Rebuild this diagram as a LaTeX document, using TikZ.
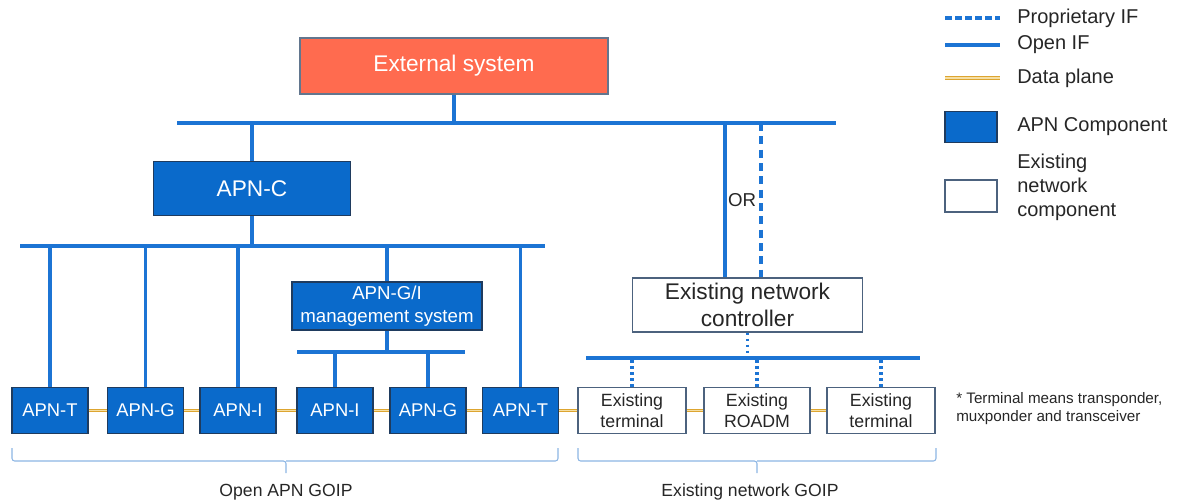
\documentclass[tikz,border=0pt]{standalone}
\usepackage{fontspec}
\setmainfont{Liberation Sans}
\usetikzlibrary{calc}
\definecolor{apnblue}{HTML}{0A6ACB}
\definecolor{lineblue}{HTML}{1C74D4}
\definecolor{navy}{HTML}{1F3B5E}
\definecolor{salmon}{HTML}{FF6B4F}
\definecolor{gold}{HTML}{DDA530}
\definecolor{goldlight}{HTML}{F5DFA5}
\definecolor{bracec}{HTML}{8CB6E4}
\definecolor{txt}{HTML}{262626}
\tikzset{
  apn/.style={draw=navy, line width=0.8pt, fill=apnblue, text=white, inner sep=0pt, align=center},
  exist/.style={draw=navy!80, line width=0.8pt, fill=white, text=txt, inner sep=0pt, align=center},
  openif/.style={draw=lineblue, line width=2.3pt},
  propif/.style={draw=lineblue, line width=2.3pt, dash pattern=on 6pt off 4pt},
  dotif/.style={draw=lineblue, line width=2.3pt, dash pattern=on 2pt off 2.5pt},
  dataplane/.style={draw=gold, line width=0.8pt, double=goldlight, double distance=1.2pt},
  brc/.style={draw=bracec, line width=0.8pt, rounded corners=2pt},
  lbl/.style={text=txt, inner sep=0pt},
  legt/.style={lbl, anchor=west, font=\fontsize{15}{18}\selectfont},
}
\begin{document}
\begin{tikzpicture}[x=0.75pt, y=-0.75pt]
\useasboundingbox (0,0) rectangle (1177,503);
% top
\node[draw=navy!70, line width=0.8pt, fill=salmon, text=white, minimum width=231pt, minimum height=42pt, font=\fontsize{17}{20}\selectfont] (ext) at (454,66) {External system};
\coordinate (b1l) at (177,123); \coordinate (b1r) at (836,123);
\draw[openif] (b1l) -- (b1r);
\draw[openif] (ext.south) -- (ext.south |- b1l);
% APN-C
\node[apn, minimum width=148pt, minimum height=41pt, font=\fontsize{17}{20}\selectfont] (apnc) at (252,188.5) {APN-C};
\draw[openif] (apnc.north) -- (apnc.north |- b1l);
\coordinate (b2l) at (20,246); \coordinate (b2r) at (545,246);
\draw[openif] (b2l) -- (b2r);
\draw[openif] (apnc.south) -- (apnc.south |- b2l);
% management
\node[apn, minimum width=142.5pt, minimum height=36pt, font=\fontsize{14}{17}\selectfont] (mgmt) at (387,306) {APN-G/I\\management system};
\draw[openif] (mgmt.north) -- (mgmt.north |- b2l);
\coordinate (b3l) at (297,352); \coordinate (b3r) at (465,352);
\draw[openif] (b3l) -- (b3r);
\draw[openif] (mgmt.south) -- (mgmt.south |- b3l);
% bottom APN row
\tikzset{small/.style={minimum width=57pt, minimum height=35pt, font=\fontsize{13.8}{16}\selectfont}}
\node[apn, small] (t1) at (50,410.5) {APN-T};
\node[apn, small] (g1) at (145.5,410.5) {APN-G};
\node[apn, small] (i1) at (238,410.5) {APN-I};
\node[apn, small] (i2) at (335,410.5) {APN-I};
\node[apn, small] (g2) at (428,410.5) {APN-G};
\node[apn, small] (t2) at (520.5,410.5) {APN-T};
\foreach \n in {t1,g1,i1,t2} {\draw[openif] (\n.north) -- (\n.north |- b2l);}
\foreach \n in {i2,g2} {\draw[openif] (\n.north) -- (\n.north |- b3l);}
% existing network
\node[exist, minimum width=173pt, minimum height=40.5pt, font=\fontsize{17}{20.5}\selectfont] (ctrl) at (747.5,305) {Existing network\\controller};
\coordinate (c1) at (725,123); \coordinate (c2) at (761,123);
\draw[openif] (c1) -- (c1 |- ctrl.north);
\draw[propif] (c2) -- (c2 |- ctrl.north);
\node[lbl, font=\fontsize{14}{17}\selectfont] (or) at (742,200) {OR};
\coordinate (b4l) at (586,358); \coordinate (b4r) at (920,358);
\draw[openif] (b4l) -- (b4r);
\draw[dotif] (ctrl.south) -- (ctrl.south |- b4l);
\tikzset{exs/.style={minimum height=35pt, font=\fontsize{13.3}{16}\selectfont}}
\node[exist, exs, minimum width=81pt] (et1) at (632,410.5) {Existing\\terminal};
\node[exist, exs, minimum width=79.5pt] (er) at (757,410.5) {Existing\\ROADM};
\node[exist, exs, minimum width=81pt] (et2) at (881,410.5) {Existing\\terminal};
\foreach \n in {et1,er,et2} {\draw[dotif] (\n.north) -- (\n.north |- b4l);}
% data plane
\draw[dataplane] (t1.east) -- (g1.west);
\draw[dataplane] (g1.east) -- (i1.west);
\draw[dataplane] (i1.east) -- (i2.west);
\draw[dataplane] (i2.east) -- (g2.west);
\draw[dataplane] (g2.east) -- (t2.west);
\draw[dataplane] (t2.east) -- (et1.west);
\draw[dataplane] (et1.east) -- (er.west);
\draw[dataplane] (er.east) -- (et2.west);
% braces
\draw[brc] (12,448) -- (12,461) -- (286,461) -- (286,473);
\draw[brc] (286,461) -- (558,461) -- (558,448);
\draw[brc] (578,448) -- (578,461) -- (757,461) -- (757,473);
\draw[brc] (757,461) -- (936,461) -- (936,448);
\node[lbl, font=\fontsize{13.2}{16}\selectfont] (gl) at (286,492) {Open APN GOIP};
\node[lbl, font=\fontsize{13.2}{16}\selectfont] (gr) at (750,492) {Existing network GOIP};
% footnote
\node[lbl, anchor=west, align=left, font=\fontsize{11.4}{13.5}\selectfont] (fn) at (956,409) {* Terminal means transponder,\\muxponder and transceiver};
% legend
\coordinate (l1a) at (945,18); \coordinate (l1b) at (1000,18);
\draw[propif, dash pattern=on 5pt off 2.5pt] (l1a) -- (l1b);
\node[legt] (lt1) at (1017,18) {Proprietary IF};
\coordinate (l2a) at (945,45); \coordinate (l2b) at (1000,45);
\draw[openif] (l2a) -- (l2b);
\node[legt] (lt2) at (1017,45) {Open IF};
\coordinate (l3a) at (945,78); \coordinate (l3b) at (1000,78);
\draw[dataplane] (l3a) -- (l3b);
\node[legt] (lt3) at (1017,78) {Data plane};
\node[apn, minimum width=39pt, minimum height=23.5pt] (lb1) at (971,127) {};
\node[legt] (lt4) at (1017,127) {APN Component};
\node[exist, minimum width=39pt, minimum height=24pt] (lb2) at (971,196) {};
\node[legt, align=left, font=\fontsize{15}{18}\selectfont] (lt5) at (1017,187) {Existing\\network\\component};
\end{tikzpicture}
\end{document}
